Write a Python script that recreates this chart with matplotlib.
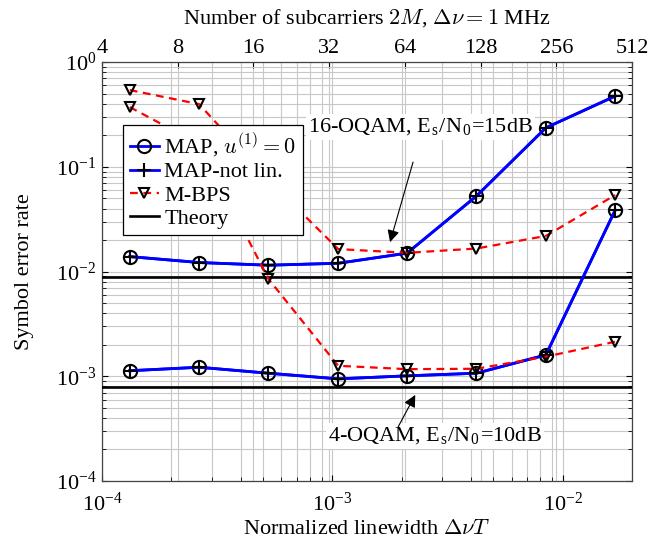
import matplotlib
matplotlib.use('Agg')
import matplotlib.pyplot as plt
from matplotlib.ticker import LogLocator, NullLocator, NullFormatter, FixedLocator, FixedFormatter

plt.rcParams['font.family'] = ['Liberation Serif', 'DejaVu Serif']
plt.rcParams['mathtext.fontset'] = 'cm'
plt.rcParams['font.size'] = 16

FS = 16

# ---- data ----
norm_linewidth = [1.32e-4, 2.64e-4, 5.28e-4, 1.06e-3, 2.11e-3, 4.22e-3, 8.45e-3, 1.69e-2]

ser_map_16 = [0.0139, 0.0122, 0.0115, 0.0120, 0.0150, 0.0526, 0.236, 0.474]
ser_notlin_16 = [0.0139, 0.0122, 0.0115, 0.0120, 0.0150, 0.0526, 0.236, 0.474]
ser_mbps_16 = [0.541, 0.397, 0.075, 0.0164, 0.0151, 0.0166, 0.0219, 0.0538]
theory_16 = 8.9e-3

ser_map_4 = [1.13e-3, 1.22e-3, 1.07e-3, 9.45e-4, 1.01e-3, 1.07e-3, 1.60e-3, 0.0387]
ser_notlin_4 = [1.13e-3, 1.22e-3, 1.07e-3, 9.45e-4, 1.01e-3, 1.07e-3, 1.60e-3, 0.0387]
ser_mbps_4 = [0.372, 0.165, 8.5e-3, 1.26e-3, 1.17e-3, 1.18e-3, 1.54e-3, 2.14e-3]
theory_4 = 7.9e-4

subcarriers = [4, 8, 16, 32, 64, 128, 256, 512]
subcarrier_labels = ['4', '8', '16', '32', '64', '128', '256', '512']

labels = ['MAP, $u^{(1)}=0$', 'MAP-not lin.', 'M-BPS', 'Theory']

# ---- figure ----
fig = plt.figure(figsize=(6.71, 5.45), dpi=100)
ax2 = fig.add_axes([0.152, 0.1174, 0.790, 0.7686])
ax = fig.add_axes([0.152, 0.1174, 0.790, 0.7686])
ax.set_zorder(2)
ax2.set_zorder(1)
ax.patch.set_visible(False)

grid_kw = dict(color='#c8c8c8', linewidth=0.8)

# main axis
ax.set_xscale('log')
ax.set_yscale('log')
ax.set_xlim(1e-4, 2e-2)
ax.set_ylim(1e-4, 1e0)
ax.xaxis.set_major_locator(LogLocator(base=10, numticks=10))
ax.xaxis.set_minor_locator(LogLocator(base=10, subs=range(2, 10), numticks=20))
ax.yaxis.set_major_locator(LogLocator(base=10, numticks=10))
ax.yaxis.set_minor_locator(LogLocator(base=10, subs=range(2, 10), numticks=20))
ax.xaxis.set_minor_formatter(NullFormatter())
ax.yaxis.set_minor_formatter(NullFormatter())
ax.grid(True, which='both', **grid_kw)
ax.set_axisbelow(True)
ax.tick_params(which='both', direction='in', top=False, right=True, labelsize=FS)
ax.tick_params(which='major', length=4.5, width=0.8)
ax.tick_params(which='minor', length=2.8, width=0.6)
ax.tick_params(axis='x', which='major', pad=8)
ax.tick_params(axis='y', which='major', pad=4)

# top axis
ax2.set_xscale('log', base=2)
ax2.set_xlim(subcarriers[0], subcarriers[-1])
ax2.xaxis.set_major_locator(FixedLocator(subcarriers))
ax2.xaxis.set_major_formatter(FixedFormatter(subcarrier_labels))
ax2.xaxis.set_minor_locator(NullLocator())
ax2.xaxis.tick_top()
ax2.xaxis.set_label_position('top')
ax2.set_yscale('log')
ax2.set_ylim(1e-4, 1e0)
ax2.yaxis.set_major_locator(NullLocator())
ax2.yaxis.set_minor_locator(NullLocator())
ax2.grid(True, axis='x', which='major', **grid_kw)
ax2.tick_params(axis='x', which='both', direction='in', length=4.5, width=0.8,
                labelsize=FS, pad=3)
for sp in ax2.spines.values():
    sp.set_visible(False)

for sp in ax.spines.values():
    sp.set_color('#444444')
    sp.set_linewidth(0.9)

blue = '#0000ff'
red = '#ff0000'
circ_kw = dict(marker='o', ms=9.5, mfc='none', mec='black', mew=1.5)
plus_kw = dict(marker='+', ms=10.5, mec='black', mew=1.5)
tri_kw = dict(marker='v', ms=7, mfc='none', mec='black', mew=1.5)

# 16-OQAM
l1, = ax.plot(norm_linewidth, ser_map_16, color=blue, lw=2.0, zorder=3, **circ_kw)
l2, = ax.plot(norm_linewidth, ser_notlin_16, color=blue, lw=2.0, zorder=3, **plus_kw)
l3, = ax.plot(norm_linewidth, ser_mbps_16, color=red, lw=1.6, ls=(0, (3.5, 2.5)), zorder=4, **tri_kw)
l4 = ax.axhline(theory_16, color='black', lw=1.9, zorder=3)

# 4-OQAM
ax.plot(norm_linewidth, ser_map_4, color=blue, lw=2.0, zorder=3, **circ_kw)
ax.plot(norm_linewidth, ser_notlin_4, color=blue, lw=2.0, zorder=3, **plus_kw)
ax.plot(norm_linewidth, ser_mbps_4, color=red, lw=1.6, ls=(0, (3.5, 2.5)), zorder=4, **tri_kw)
ax.axhline(theory_4, color='black', lw=1.9, zorder=3)

# legend
leg = ax.legend([l1, l2, l3, l4], labels, loc='upper left',
                bbox_to_anchor=(0.0396, 0.850), borderaxespad=0,
                fancybox=False, framealpha=1, edgecolor='black',
                handlelength=1.3, handletextpad=0.25, labelspacing=0.12,
                borderpad=0.3, fontsize=FS)
leg.get_frame().set_linewidth(0.9)
leg.set_zorder(10)

# annotations
arrow_kw = dict(arrowstyle='-|>', color='black', lw=0.8, mutation_scale=18,
                shrinkA=0, shrinkB=0)
ax.annotate('', xy=(1.78e-3, 0.0191), xytext=(2.24e-3, 0.111), arrowprops=arrow_kw, zorder=6)
ax.text(2.42e-3, 0.240, '16-OQAM, E$_{\\mathregular{s}}$/N$_{\\mathregular{0}}$=15dB',
        ha='center', va='center', fontsize=FS, zorder=2.8,
        bbox=dict(fc='white', ec='none', pad=1.5))
ax.annotate('', xy=(2.29e-3, 6.64e-4), xytext=(1.93e-3, 3.29e-4), arrowprops=arrow_kw, zorder=6)
ax.text(2.79e-3, 2.70e-4, '4-OQAM, E$_{\\mathregular{s}}$/N$_{\\mathregular{0}}$=10dB',
        ha='center', va='center', fontsize=FS, zorder=2.8,
        bbox=dict(fc='white', ec='none', pad=1.5))

# labels
ax.set_xlabel('Normalized linewidth $\\Delta\\nu T$', fontsize=FS)
ax.set_ylabel('Symbol error rate', fontsize=FS)
ax2.set_xlabel('Number of subcarriers $2M$, $\\Delta\\nu = 1$ MHz', fontsize=FS)
ax.xaxis.set_label_coords(0.5, -0.092)
ax.yaxis.set_label_coords(-0.128, 0.5)
ax2.xaxis.set_label_coords(0.5, 1.092)

fig.savefig('out.png', dpi=100)
